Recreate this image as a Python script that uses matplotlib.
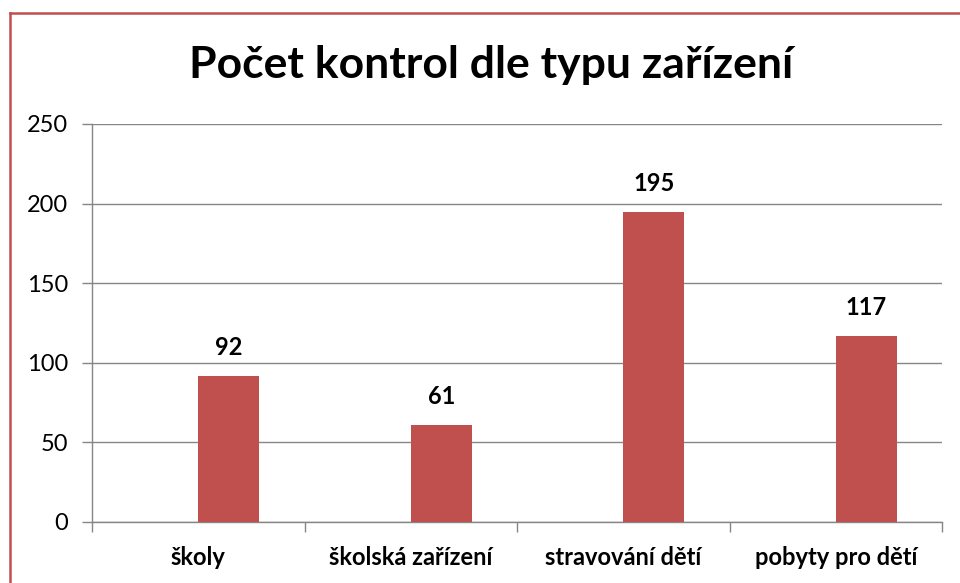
import matplotlib
matplotlib.use("Agg")
import matplotlib.pyplot as plt
from matplotlib.lines import Line2D

categories = ["školy", "školská zařízení", "stravování dětí", "pobyty pro dětí"]
values = [92, 61, 195, 117]
yticks = [0, 50, 100, 150, 200, 250]
title = "Počet kontrol dle typu zařízení"

W, H = 960, 583
fig = plt.figure(figsize=(W / 100, H / 100), dpi=100)
fig.patch.set_facecolor("white")
font = ["Lato", "DejaVu Sans"]

ax = fig.add_axes([92 / W, 1 - 522 / H, 850 / W, (522 - 124) / H])
x = list(range(len(categories)))
bw = 0.287
bars = ax.bar([i + bw / 2 for i in x], values, width=bw, color="#C0504D", zorder=3)

for i, v in zip(x, values):
    ax.annotate(str(v), (i + bw / 2, v), xytext=(0, 12), textcoords="offset points",
                ha="center", va="bottom", fontsize=17, fontweight="bold",
                family=font, color="black")

ax.set_xlim(-0.5, len(categories) - 0.5)
ax.set_ylim(0, 250)
ax.set_yticks(yticks)
ax.set_yticklabels([str(t) for t in yticks], family=font, fontsize=17)
ax.set_xticks(x)
ax.set_xticklabels(categories, family=font, fontsize=17, fontweight="bold")
ax.set_xticks([i - 0.5 for i in range(len(categories) + 1)], minor=True)
ax.tick_params(axis="x", which="major", length=0, pad=17)
ax.tick_params(axis="x", which="minor", length=7, color="#868686", width=1)
ax.tick_params(axis="y", length=7, color="#868686", width=1, pad=10)
ax.yaxis.grid(True, color="#868686", linewidth=1, zorder=0)
for s in ["top", "right"]:
    ax.spines[s].set_visible(False)
for s in ["left", "bottom"]:
    ax.spines[s].set_color("#868686")
    ax.spines[s].set_linewidth(1)

fig.text(491 / W, 1 - 65 / H, title, ha="center", va="center", fontsize=32,
         fontweight="bold", family=font, color="black")

# chart-area border (red), visible at left and top
fig.add_artist(Line2D([9.5 / W, 9.5 / W], [0, 1 - 12.5 / H], color="#C0504D", linewidth=1.8,
                      transform=fig.transFigure))
fig.add_artist(Line2D([9.5 / W, 1], [1 - 12.5 / H, 1 - 12.5 / H], color="#C0504D", linewidth=1.8,
                      transform=fig.transFigure))

fig.savefig("out.png", dpi=100, facecolor="white")
